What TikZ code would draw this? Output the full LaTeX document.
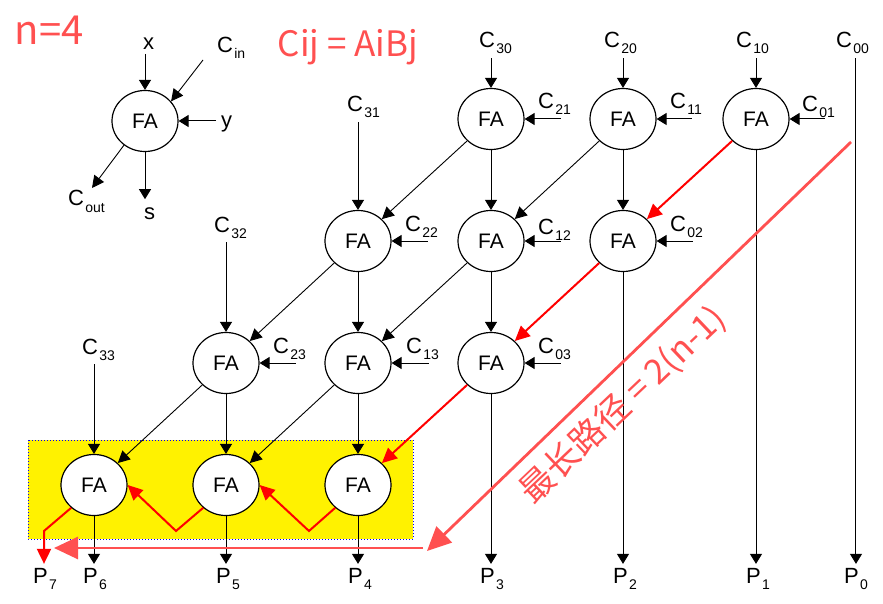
\documentclass[tikz,border=0pt]{standalone}
\usepackage{fontspec}
\setmainfont{Liberation Sans}
\newfontfamily\cjk{Noto Sans CJK SC}
\usepackage{xcolor}
\usetikzlibrary{arrows.meta, shapes.geometric}

\definecolor{pathpink}{HTML}{FF5050}
\newcommand{\sublbl}[2]{#1\kern1.5pt\raisebox{-6pt}{\fontsize{14}{14}\selectfont #2}}

\tikzset{
    fa/.style={draw, ellipse, line width=1.2pt, fill=white, minimum width=66pt, minimum height=61pt,
        inner sep=0pt, font=\fontsize{21}{24}\selectfont, text=black},
    lbl/.style={anchor=base west, inner sep=0pt, outer xsep=0pt, outer ysep=4pt, font=\fontsize{22}{24}\selectfont},
    wire/.style={-{Triangle[length=10pt,width=12pt]}, line width=1pt},
    carry/.style={wire, shorten <=10pt},
    diag/.style={-{Triangle[length=12pt,width=12pt]}, line width=0.9pt},
    redpath/.style={-{Triangle[length=15pt,width=14pt]}, red, line width=2pt},
    pinkpath/.style={-{Triangle[length=24pt,width=22pt]}, pathpink, line width=2.8pt},
    pinktext/.style={text=pathpink, inner sep=0pt}
}

\begin{document}
\begin{tikzpicture}[x=1pt, y=-1pt]
    \useasboundingbox (0,0) rectangle (883,604);

    % Highlighted last row
    \draw[fill=yellow, draw=blue, dotted, line width=1pt] (28,440) rectangle (413,539);

    % Legend
    \node[fa] (fa) at (145,121) {FA};
    \node[lbl] (xin) at (143,50) {x};
    \node[lbl] (cin) at (217,53) {\sublbl{C}{in}};
    \node[lbl] (yin) at (221,128) {y};
    \node[lbl] (cout) at (68,206) {\sublbl{C}{out}};
    \node[lbl] (sout) at (144,219) {s};
    \coordinate (cinfree) at (203,60);
    \coordinate (coutfree) at (92,188);
    \draw[wire] (fa |- xin.south) -- (fa);
    \draw[diag] (cinfree) -- (fa.37);
    \draw[wire, shorten <=5pt] (yin.west |- fa) -- (fa);
    \draw[diag] (fa.229) -- (coutfree);
    \draw[wire, shorten >=4pt] (fa) -- (fa |- sout.north);

    % Adder cells
    \node[fa] (fa30) at (491,119) {FA};
    \node[fa] (fa20) at (623,119) {FA};
    \node[fa] (fa10) at (756,119) {FA};
    \node[fa] (fa31) at (358,241) {FA};
    \node[fa] (fa21) at (491,241) {FA};
    \node[fa] (fa11) at (623,241) {FA};
    \node[fa] (fa32) at (226,363) {FA};
    \node[fa] (fa22) at (358,363) {FA};
    \node[fa] (fa12) at (491,363) {FA};
    \node[fa] (fa33) at (94,485) {FA};
    \node[fa] (fa23) at (226,485) {FA};
    \node[fa] (fa13) at (358,485) {FA};

    % Partial products
    \node[lbl] (c30) at (479,48) {\sublbl{C}{30}};
    \node[lbl] (c20) at (604,48) {\sublbl{C}{20}};
    \node[lbl] (c10) at (736,48) {\sublbl{C}{10}};
    \node[lbl] (c00) at (836,48) {\sublbl{C}{00}};
    \node[lbl] (c21) at (538,109) {\sublbl{C}{21}};
    \node[lbl] (c11) at (670,109) {\sublbl{C}{11}};
    \node[lbl] (c01) at (802,112) {\sublbl{C}{01}};
    \node[lbl] (c31) at (347,112) {\sublbl{C}{31}};
    \node[lbl] (c22) at (405,231) {\sublbl{C}{22}};
    \node[lbl] (c12) at (538,234) {\sublbl{C}{12}};
    \node[lbl] (c02) at (670,231) {\sublbl{C}{02}};
    \node[lbl] (c32) at (214,232) {\sublbl{C}{32}};
    \node[lbl] (c33) at (82,354) {\sublbl{C}{33}};
    \node[lbl] (c23) at (273,353) {\sublbl{C}{23}};
    \node[lbl] (c13) at (406,353) {\sublbl{C}{13}};
    \node[lbl] (c03) at (538,353) {\sublbl{C}{03}};

    % Product bits
    \node[lbl] (p7) at (33,583) {\sublbl{P}{7}};
    \node[lbl] (p6) at (83,583) {\sublbl{P}{6}};
    \node[lbl] (p5) at (216,583) {\sublbl{P}{5}};
    \node[lbl] (p4) at (348,583) {\sublbl{P}{4}};
    \node[lbl] (p3) at (480,583) {\sublbl{P}{3}};
    \node[lbl] (p2) at (613,583) {\sublbl{P}{2}};
    \node[lbl] (p1) at (746,583) {\sublbl{P}{1}};
    \node[lbl] (p0) at (844,583) {\sublbl{P}{0}};

    % Inputs from above
    \draw[wire] (fa30 |- c30.south) -- (fa30);
    \draw[wire] (fa20 |- c20.south) -- (fa20);
    \draw[wire] (fa10 |- c10.south) -- (fa10);
    \draw[wire] (fa31 |- c31.south) -- (fa31);
    \draw[wire] (fa32 |- c32.south) -- (fa32);
    \draw[wire] (fa33 |- c33.south) -- (fa33);
    \draw[wire] (p0.north |- c00.south) -- (p0);

    % Inputs from the right
    \draw[carry] (c21.south east |- fa30) -- (fa30);
    \draw[carry] (c11.south east |- fa20) -- (fa20);
    \draw[carry] (c01.south east |- fa10) -- (fa10);
    \draw[carry] (c22.south east |- fa31) -- (fa31);
    \draw[carry] (c12.south east |- fa21) -- (fa21);
    \draw[carry] (c02.south east |- fa11) -- (fa11);
    \draw[carry] (c23.south east |- fa32) -- (fa32);
    \draw[carry] (c13.south east |- fa22) -- (fa22);
    \draw[carry] (c03.south east |- fa12) -- (fa12);

    % Sums
    \draw[wire] (fa30) -- (fa21);
    \draw[wire] (fa20) -- (fa11);
    \draw[wire] (fa21) -- (fa12);
    \draw[wire] (fa31) -- (fa22);
    \draw[wire] (fa22) -- (fa13);
    \draw[wire] (fa32) -- (fa23);
    \draw[wire] (fa33) -- (fa33 |- p6.north);
    \draw[wire] (fa23) -- (fa23 |- p5.north);
    \draw[wire] (fa13) -- (fa13 |- p4.north);
    \draw[wire] (fa12) -- (fa12 |- p3.north);
    \draw[wire] (fa11) -- (fa11 |- p2.north);
    \draw[wire] (fa10) -- (fa10 |- p1.north);

    % Carries
    \draw[diag] (fa30) -- (fa31);
    \draw[diag] (fa20) -- (fa21);
    \draw[diag] (fa31) -- (fa32);
    \draw[diag] (fa21) -- (fa22);
    \draw[diag] (fa32) -- (fa33);
    \draw[diag] (fa22) -- (fa23);

    % Critical path
    \coordinate (bend1) at (309,531);
    \coordinate (bend2) at (176,531);
    \coordinate (bend3) at (44,531);
    \draw[redpath] (fa10) -- (fa11);
    \draw[redpath] (fa11) -- (fa12);
    \draw[redpath] (fa12) -- (fa13);
    \draw[redpath] (fa13.225) -- (bend1) -- (fa23.east);
    \draw[redpath] (fa23.225) -- (bend2) -- (fa33.east);
    \draw[redpath] (fa33.225) -- (bend3) -- (bend3 |- p7.north);

    % Longest path arrows
    \coordinate (long1) at (851,142);
    \coordinate (long2) at (427,551);
    \coordinate (long3) at (423,548);
    \coordinate (long4) at (54,548);
    \draw[pinkpath] (long1) -- (long2);
    \draw[pinkpath] (long3) -- (long4);

    % Notes
    \node[pinktext, font=\cjk\fontsize{40}{44}\selectfont] (nval) at (49,30) {n=4};
    \node[pinktext, font=\cjk\fontsize{35}{40}\selectfont] (cijnote) at (348,47) {Cij = AiBj};
    \node[pinktext, rotate=43.5, font=\cjk\fontsize{34.5}{40}\selectfont] (pathnote) at (623,405) {最长路径 = 2(n-1)};
\end{tikzpicture}
\end{document}
